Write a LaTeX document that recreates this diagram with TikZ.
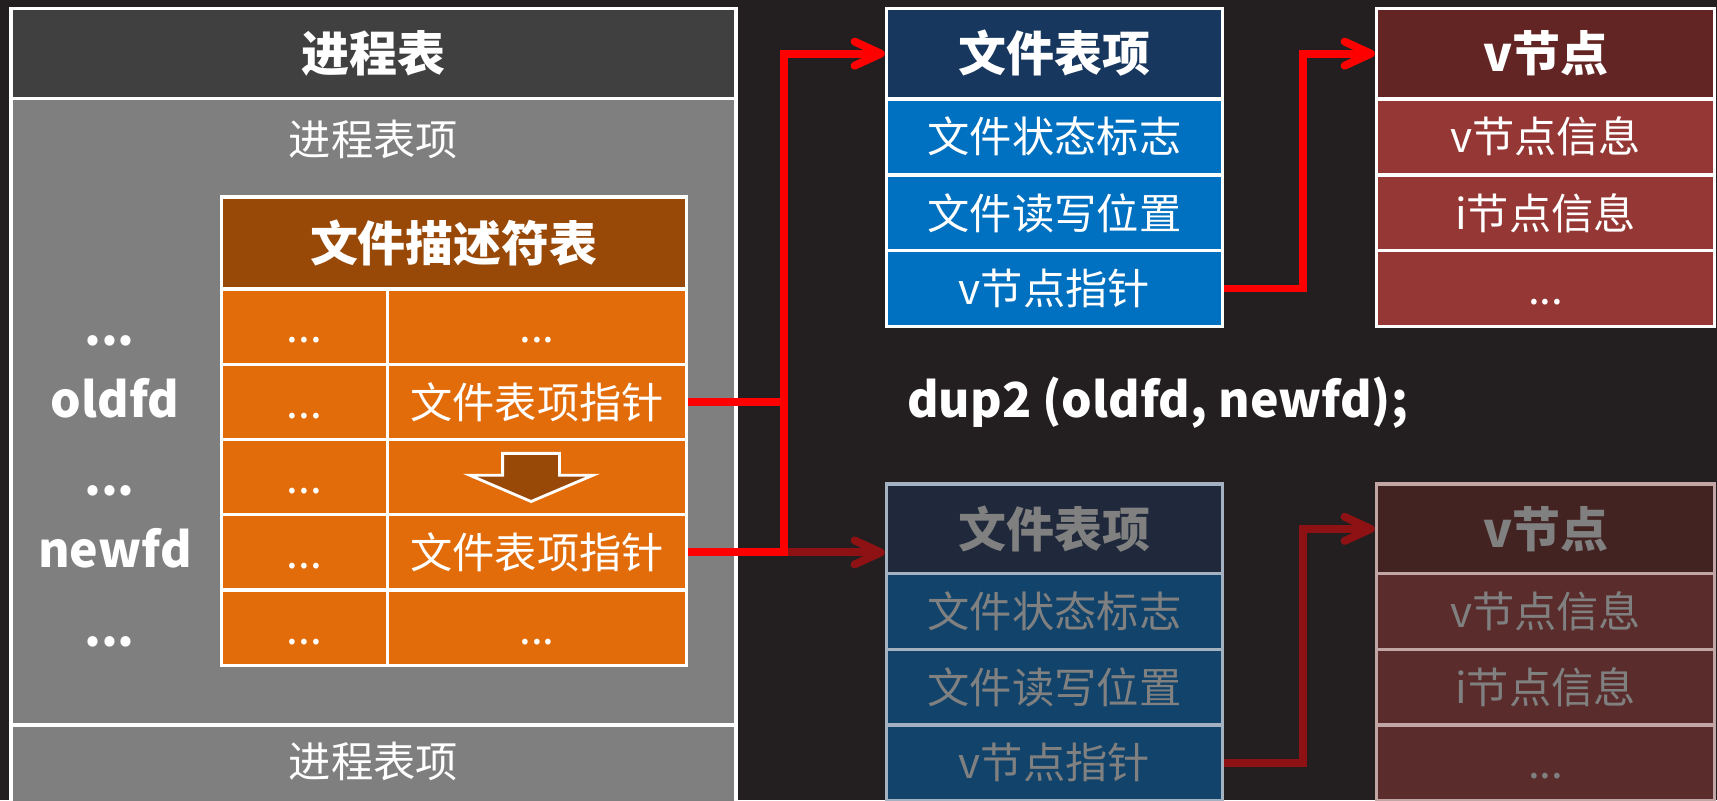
\documentclass[tikz,border=0pt]{standalone}
\usepackage{fontspec}
\setmainfont{Noto Sans CJK SC}
\usetikzlibrary{arrows.meta}
\definecolor{bg}{HTML}{231F20}
\definecolor{ptHead}{HTML}{404040}
\definecolor{ptBody}{HTML}{7F7F7F}
\definecolor{fdHead}{HTML}{984807}
\definecolor{fdRow}{HTML}{E36C0A}
\definecolor{ftHead}{HTML}{17375E}
\definecolor{ftRow}{HTML}{0070C0}
\definecolor{vnHead}{HTML}{632523}
\definecolor{vnRow}{HTML}{953735}
\definecolor{ftHeadF}{HTML}{1F293B}
\definecolor{ftRowF}{HTML}{12446B}
\definecolor{vnHeadF}{HTML}{432321}
\definecolor{vnRowF}{HTML}{5A2C2C}
\definecolor{ftBorderF}{HTML}{A3B1C0}
\definecolor{vnBorderF}{HTML}{C2A6A6}
\definecolor{textF}{HTML}{808080}
\definecolor{conRed}{HTML}{FF0000}
\definecolor{conDark}{HTML}{8E1213}
\tikzset{
  box/.style={draw=white, line width=1.5pt, inner sep=0pt, text=white},
  reg/.style={font=\fontsize{19.3}{20}\selectfont, text height=17pt, text depth=2.3pt},
  hdr/.style={font=\bfseries\fontsize{21.9}{22}\selectfont, text height=19.3pt, text depth=2.6pt},
  lbl/.style={inner sep=0pt, text=white, font=\bfseries\fontsize{22}{23}\selectfont, text height=16pt, text depth=2.3pt},
  fdl/.style={box, reg, fill=fdRow, minimum width=76pt, minimum height=34.4pt},
  fdr/.style={box, reg, fill=fdRow, minimum width=136.5pt, minimum height=34.4pt},
  ftcell/.style={box, reg, fill=ftRow, minimum width=153.5pt, minimum height=34.5pt},
  vncell/.style={box, reg, fill=vnRow, minimum width=154.5pt, minimum height=34.5pt},
  ftcellF/.style={ftcell, fill=ftRowF, draw=ftBorderF, text=textF},
  vncellF/.style={vncell, fill=vnRowF, draw=vnBorderF, text=textF},
  conn/.style={line width=3.6pt, -{Straight Barb[length=12pt, width=11pt, round]}},
  rdconn/.style={conn, draw=conRed},
  dkconn/.style={conn, draw=conDark},
}
\begin{document}
\begin{tikzpicture}[x=0.5pt, y=-0.5pt]
\path[use as bounding box, fill=bg] (0,0) rectangle (1568,731);
\clip (0,0) rectangle (1568,731);

% process table
\node[box, hdr, fill=ptHead, minimum width=331pt, minimum height=41pt] (pt) at (341,49) {进程表};
\node[box, fill=ptBody, minimum width=331pt, minimum height=286pt] (pb) at (341,376) {};
\node[box, reg, text=white, draw=none] (pbl) at (341,127) {进程表项};
\node[box, fill=ptBody, minimum width=331pt, minimum height=50pt] (pbot) at (341,712) {};
\node[inner sep=0pt, reg, text=white] (pbotl) at (341,695) {进程表项};

% fd labels
\node[lbl] (l1) at (100,302) {...};
\node[lbl] (l2) at (105,367.5) {oldfd};
\node[lbl] (l3) at (100,439) {...};
\node[lbl] (l4) at (105,504.5) {newfd};
\node[lbl] (l5) at (100,577) {...};

% fd table
\node[box, hdr, fill=fdHead, minimum width=212.5pt, minimum height=42pt] (fdh) at (414.5,222) {文件描述符表};
\node[fdl] (fdl1) at (278,298.5) {...};
\node[fdr] (fdr1) at (490.5,298.5) {...};
\node[fdl] (fdl2) at (278,367.5) {...};
\node[fdr] (fdr2) at (490.5,367.5) {文件表项指针};
\node[fdl] (fdl3) at (278,436) {...};
\node[fdr] (fdr3) at (490.5,436) {};
\node[fdl] (fdl4) at (278,504.5) {...};
\node[fdr] (fdr4) at (490.5,504.5) {文件表项指针};
\node[fdl] (fdl5) at (278,573.5) {...};
\node[fdr] (fdr5) at (490.5,573.5) {...};
\draw[fill=fdHead, draw=white, line width=1.3pt, line join=miter]
  (459,414) -- (511,414) -- (511,434) -- (541.5,434) -- (485,458) -- (429,434) -- (459,434) -- cycle;

% file table entry (top)
\node[box, hdr, fill=ftHead, minimum width=153.5pt, minimum height=41pt] (ft1) at (963,49) {文件表项};
\node[ftcell] (ft1a) at (963,125) {文件状态标志};
\node[ftcell] (ft1b) at (963,194.5) {文件读写位置};
\node[ftcell] (ft1c) at (963,263.5) {v节点指针};

% vnode (top)
\node[box, hdr, fill=vnHead, minimum width=154.5pt, minimum height=41pt] (vn1) at (1411.5,49) {v节点};
\node[vncell] (vn1a) at (1411.5,125) {v节点信息};
\node[vncell] (vn1b) at (1411.5,194.5) {i节点信息};
\node[vncell] (vn1c) at (1411.5,263.5) {...};

% dup2 text
\node[anchor=west, inner sep=0pt, text=white, font=\bfseries\fontsize{22}{23}\selectfont, text height=16pt, text depth=2.3pt] (dup) at (828,367.5) {dup2 (oldfd, newfd);};

% file table entry (bottom, faded)
\node[box, hdr, fill=ftHeadF, draw=ftBorderF, text=textF, minimum width=153.5pt, minimum height=41pt] (ft2) at (963,483) {文件表项};
\node[ftcellF] (ft2a) at (963,558.5) {文件状态标志};
\node[ftcellF] (ft2b) at (963,627.5) {文件读写位置};
\node[ftcellF] (ft2c) at (963,696.5) {v节点指针};

% vnode (bottom, faded)
\node[box, hdr, fill=vnHeadF, draw=vnBorderF, text=textF, minimum width=154.5pt, minimum height=41pt] (vn2) at (1411.5,483) {v节点};
\node[vncellF] (vn2a) at (1411.5,558.5) {v节点信息};
\node[vncellF] (vn2b) at (1411.5,627.5) {i节点信息};
\node[vncellF] (vn2c) at (1411.5,696.5) {...};

% connectors
\coordinate (j1) at (716,367.5);
\coordinate (j2) at (716,504.5);
\coordinate (k1) at (1190,263.5);
\coordinate (k2) at (1190,696.5);
\draw[dkconn] (j2) -- (j2 -| ft2.west);
\draw[dkconn] (ft2c.east) -- (k2) |- (vn2.west);
\draw[rdconn, -] (fdr4.east) -- (j2) -- (j1);
\draw[rdconn] (fdr2.east) -- (j1) |- (ft1.west);
\draw[rdconn] (ft1c.east) -- (k1) |- (vn1.west);
\end{tikzpicture}
\end{document}
